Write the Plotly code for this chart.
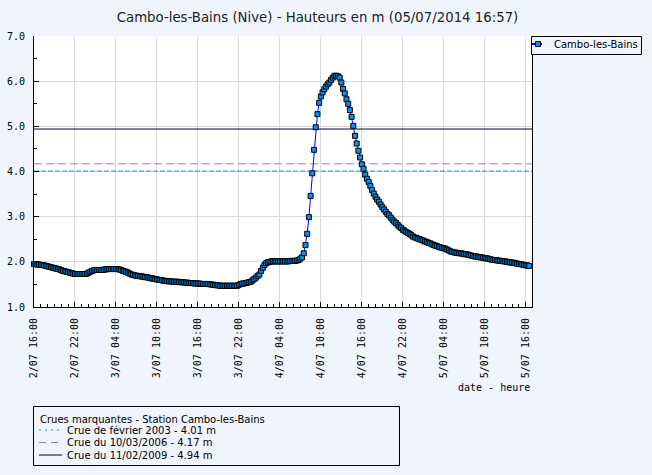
import pandas as pd
import plotly.graph_objects as go

title_text = "Cambo-les-Bains (Nive) - Hauteurs en m (05/07/2014 16:57)"
series_name = "Cambo-les-Bains"
start_time = "2014-07-02 16:00"

# water level (m), one reading every 15 minutes from 2/07 16:00
levels = [
    1.95, 1.95, 1.94, 1.94, 1.93, 1.93, 1.92, 1.91, 1.90, 1.89, 1.88, 1.87,
    1.86, 1.85, 1.84, 1.83, 1.81, 1.80, 1.79, 1.78, 1.77, 1.76, 1.75, 1.74,
    1.73, 1.73, 1.73, 1.73, 1.73, 1.73, 1.73, 1.74, 1.76, 1.78, 1.80, 1.81,
    1.82, 1.82, 1.82, 1.82, 1.82, 1.83, 1.83, 1.84, 1.84, 1.84, 1.84, 1.84,
    1.84, 1.84, 1.83, 1.82, 1.80, 1.79, 1.78, 1.76, 1.74, 1.72, 1.71, 1.70,
    1.69, 1.69, 1.68, 1.68, 1.67, 1.66, 1.66, 1.65, 1.64, 1.63, 1.63, 1.62,
    1.61, 1.60, 1.60, 1.59, 1.58, 1.58, 1.57, 1.57, 1.57, 1.56, 1.56, 1.56,
    1.56, 1.55, 1.55, 1.55, 1.54, 1.54, 1.54, 1.53, 1.53, 1.53, 1.52, 1.52,
    1.52, 1.52, 1.51, 1.51, 1.51, 1.51, 1.51, 1.50, 1.50, 1.49, 1.49, 1.48,
    1.48, 1.47, 1.47, 1.47, 1.47, 1.47, 1.47, 1.47, 1.47, 1.47, 1.47, 1.47,
    1.49, 1.51, 1.52, 1.52, 1.53, 1.54, 1.55, 1.56, 1.59, 1.62, 1.65, 1.69,
    1.72, 1.80, 1.87, 1.93, 1.97, 1.99, 2.00, 2.01, 2.01, 2.01, 2.01, 2.01,
    2.01, 2.01, 2.01, 2.01, 2.01, 2.01, 2.02, 2.02, 2.02, 2.02, 2.03, 2.04,
    2.07, 2.10, 2.19, 2.37, 2.62, 2.99, 3.46, 3.96, 4.48, 4.98, 5.27, 5.52,
    5.66, 5.75, 5.82, 5.88, 5.93, 5.97, 6.03, 6.08, 6.12, 6.12, 6.11, 6.08,
    5.97, 5.83, 5.73, 5.60, 5.50, 5.36, 5.21, 5.01, 4.79, 4.62, 4.46, 4.31,
    4.16, 4.06, 3.93, 3.84, 3.77, 3.68, 3.59, 3.51, 3.44, 3.38, 3.33, 3.27,
    3.21, 3.16, 3.11, 3.06, 3.03, 2.98, 2.93, 2.89, 2.86, 2.82, 2.78, 2.75,
    2.71, 2.69, 2.66, 2.64, 2.62, 2.59, 2.56, 2.54, 2.53, 2.51, 2.50, 2.48,
    2.47, 2.45, 2.44, 2.42, 2.41, 2.39, 2.37, 2.36, 2.35, 2.33, 2.32, 2.31,
    2.30, 2.29, 2.27, 2.25, 2.23, 2.22, 2.21, 2.20, 2.20, 2.19, 2.19, 2.18,
    2.17, 2.17, 2.16, 2.15, 2.14, 2.13, 2.12, 2.12, 2.11, 2.10, 2.10, 2.09,
    2.08, 2.08, 2.07, 2.06, 2.05, 2.04, 2.04, 2.03, 2.03, 2.02, 2.02, 2.01,
    2.01, 2.00, 1.99, 1.99, 1.98, 1.98, 1.97, 1.96, 1.95, 1.95, 1.94, 1.93,
    1.92, 1.92, 1.91,
]

# reference floods
flood_labels = ["Crue de février 2003 - 4.01 m",
                "Crue du 10/03/2006 - 4.17 m",
                "Crue du 11/02/2009 - 4.94 m"]
flood_levels = [4.01, 4.17, 4.94]
flood_colors = ["#1c8ef0", "#7f7ff0", "#000030"]
flood_dash_plot = ["5px,2px", "8px,4px", "solid"]
flood_dash_legend = ["2px,4px", "7px,5px", "solid"]
legend_title = "Crues marquantes - Station Cambo-les-Bains"

tick_vals = ["2014-07-02 16:00", "2014-07-02 22:00", "2014-07-03 04:00",
             "2014-07-03 10:00", "2014-07-03 16:00", "2014-07-03 22:00",
             "2014-07-04 04:00", "2014-07-04 10:00", "2014-07-04 16:00",
             "2014-07-04 22:00", "2014-07-05 04:00", "2014-07-05 10:00",
             "2014-07-05 16:00"]
tick_text = ["2/07 16:00", "2/07 22:00", "3/07 04:00", "3/07 10:00",
             "3/07 16:00", "3/07 22:00", "4/07 04:00", "4/07 10:00",
             "4/07 16:00", "4/07 22:00", "5/07 04:00", "5/07 10:00",
             "5/07 16:00"]
x_range = ["2014-07-02 16:00", "2014-07-05 16:55"]
x_title = "date - heure"

times = pd.date_range(start_time, periods=len(levels), freq="15min")

W, H = 652, 475
L, R, T, B = 34, 532, 36, 307
BG = "#f0f5fd"
MONO = "DejaVu Sans Mono"
SANS = "DejaVu Sans"


def px(x):
    return (x - L) / (R - L)


def py(y):
    return (B - y) / (B - T)


fig = go.Figure()

for lvl, col, dash in zip(flood_levels, flood_colors, flood_dash_plot):
    fig.add_trace(go.Scatter(x=x_range, y=[lvl, lvl], mode="lines",
                             line=dict(color=col, width=1, dash=dash),
                             hoverinfo="skip", showlegend=False))

fig.add_trace(go.Scatter(
    x=times, y=levels, mode="lines+markers", name=series_name,
    line=dict(color="#0000ff", width=1),
    marker=dict(symbol="square", size=5, color="#0b8ef0",
                line=dict(color="#000000", width=1)),
    cliponaxis=False, showlegend=False))

shapes = []
annotations = []

# series legend (top right)
shapes.append(dict(type="rect", xref="paper", yref="paper",
                   x0=px(531.5), x1=px(641.5), y0=py(36.5), y1=py(54.5),
                   line=dict(color="black", width=1), fillcolor=BG, layer="above"))
shapes.append(dict(type="line", xref="paper", yref="paper",
                   x0=px(532), x1=px(542), y0=py(44), y1=py(44),
                   line=dict(color="#0000ff", width=2)))
shapes.append(dict(type="rect", xref="paper", yref="paper",
                   x0=px(535.5), x1=px(540.5), y0=py(41.5), y1=py(46.5),
                   line=dict(color="black", width=1), fillcolor="#0b8ef0"))
annotations.append(dict(text=series_name, xref="paper", yref="paper",
                        x=px(551.5), y=py(44.5), xanchor="left", yanchor="middle",
                        showarrow=False, font=dict(family=SANS, size=10, color="black")))

# flood legend (bottom)
shapes.append(dict(type="rect", xref="paper", yref="paper",
                   x0=px(33.5), x1=px(399.5), y0=py(406.5), y1=py(465.5),
                   line=dict(color="black", width=1), fillcolor=BG))
annotations.append(dict(text=legend_title, xref="paper", yref="paper",
                        x=px(38), y=py(419), xanchor="left", yanchor="middle",
                        showarrow=False, font=dict(family=SANS, size=10, color="black")))
for k, (lab, col, dash) in enumerate(zip(flood_labels, flood_colors, flood_dash_legend)):
    yy = [430, 442.5, 455][k]
    shapes.append(dict(type="line", xref="paper", yref="paper",
                       x0=px(39), x1=px(62), y0=py(yy), y1=py(yy),
                       line=dict(color=col, width=1, dash=dash)))
    annotations.append(dict(text=lab, xref="paper", yref="paper",
                            x=px(65), y=py(yy), xanchor="left", yanchor="middle",
                            showarrow=False, font=dict(family=SANS, size=10, color="black")))

annotations.append(dict(text=x_title, xref="paper", yref="paper",
                        x=px(532), y=py(387), xanchor="right", yanchor="middle",
                        showarrow=False, font=dict(family=MONO, size=10, color="black")))

fig.update_layout(
    width=W, height=H,
    margin=dict(l=L, r=W - R, t=T, b=H - B, pad=0, autoexpand=False),
    paper_bgcolor=BG, plot_bgcolor="white",
    title=dict(text=title_text, xref="container", yref="container",
               x=317.5 / W, y=1 - 17 / H, xanchor="center", yanchor="middle",
               font=dict(family=SANS, size=13.3, color="#222222")),
    shapes=shapes, annotations=annotations,
    showlegend=False,
    xaxis=dict(type="date", range=x_range, tickvals=tick_vals, ticktext=tick_text,
               tickangle=-90, ticks="inside", ticklen=5, tickcolor="black",
               showline=True, linecolor="black", linewidth=1,
               showgrid=True, gridcolor="#d9d9d9", gridwidth=1,
               zeroline=False, ticklabelstandoff=6, automargin=False,
               tickfont=dict(family=MONO, size=10, color="black"),
               minor=dict(ticks="inside", ticklen=3, tickcolor="black",
                          dtick=3600000, tick0=start_time, showgrid=False)),
    yaxis=dict(range=[1, 7], dtick=1, tick0=1, tickformat=".1f",
               ticks="inside", ticklen=5, tickcolor="black",
               showline=True, linecolor="black", linewidth=1, mirror=True,
               showgrid=True, gridcolor="#d9d9d9", gridwidth=1,
               zeroline=False, ticklabelstandoff=6, automargin=False,
               tickfont=dict(family=MONO, size=10, color="black"),
               minor=dict(ticks="inside", ticklen=3, tickcolor="black",
                          dtick=0.5, showgrid=False)),
)

fig.write_html("out.html")
